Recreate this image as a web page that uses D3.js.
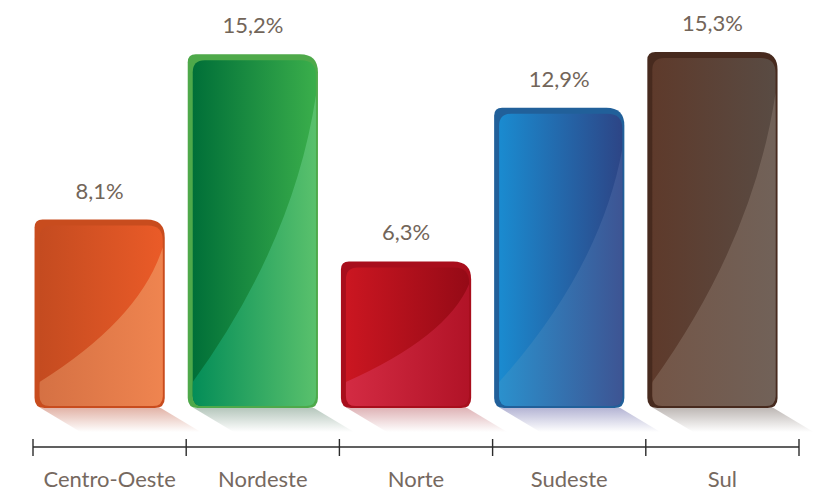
<!DOCTYPE html>
<html>
<head>
<meta charset="utf-8">
<script src="https://cdn.jsdelivr.net/npm/d3@7"></script>
<style>
  html, body { margin: 0; padding: 0; background: #fff; }
  svg { display: block; }
</style>
</head>
<body>
<svg id="chart" width="815" height="492"></svg>
<script>
const categories = ["Centro-Oeste", "Nordeste", "Norte", "Sudeste", "Sul"];
const values = [8.1, 15.2, 6.3, 12.9, 15.3];
const valueLabels = ["8,1%", "15,2%", "6,3%", "12,9%", "15,3%"];

// colour themes per bar: frame, dark gradient (left,right), gloss gradient (left,right), shadow
const frameColors = ["#c84c1e", "#4ea94a", "#a80e1c", "#21609a", "#472a1e"];
const darkLeft  = ["#c44b20", "#006f38", "#cb1621", "#1a8bd0", "#5e3a2b"];
const darkRight = ["#ea5b28", "#3aae4b", "#950a16", "#2d4586", "#594b43"];
const glossLeft  = ["#d47043", "#008b57", "#d52c44", "#2a93cf", "#745546"];
const glossRight = ["#f08550", "#5dc36d", "#b01226", "#3e5291", "#716259"];
const shadowColors = ["#d89a8a", "#9db4a6", "#d49a9e", "#9c9cc6", "#a8a09c"];

const svg = d3.select("#chart");
const defs = svg.append("defs");

const x = d3.scaleBand().domain(categories).range([33, 799]).paddingInner(0).paddingOuter(0);
const y = d3.scaleLinear().domain([0, 15.3]).range([408, 52]);
const bw = x.bandwidth();

function rr(x0, y0, w, h, tl, tr, br, bl) {
  return `M${x0 + tl},${y0}` +
    `H${x0 + w - tr}Q${x0 + w},${y0} ${x0 + w},${y0 + tr}` +
    `V${y0 + h - br}Q${x0 + w},${y0 + h} ${x0 + w - br},${y0 + h}` +
    `H${x0 + bl}Q${x0},${y0 + h} ${x0},${y0 + h - bl}` +
    `V${y0 + tl}Q${x0},${y0} ${x0 + tl},${y0}Z`;
}

const data = categories.map((c, i) => ({ c, v: values[i], label: valueLabels[i], i }));

data.forEach(d => {
  const i = d.i;
  const g1 = defs.append("linearGradient").attr("id", "dark" + i).attr("x1", 0).attr("x2", 1).attr("y1", 0).attr("y2", 0);
  g1.append("stop").attr("offset", 0).attr("stop-color", darkLeft[i]);
  g1.append("stop").attr("offset", 1).attr("stop-color", darkRight[i]);
  const g2 = defs.append("linearGradient").attr("id", "gloss" + i).attr("x1", 0).attr("x2", 1).attr("y1", 0).attr("y2", 0);
  g2.append("stop").attr("offset", 0).attr("stop-color", glossLeft[i]);
  g2.append("stop").attr("offset", 1).attr("stop-color", glossRight[i]);
  const g3 = defs.append("linearGradient").attr("id", "shadow" + i).attr("x1", 0).attr("x2", 0).attr("y1", 0).attr("y2", 1);
  g3.append("stop").attr("offset", 0).attr("stop-color", shadowColors[i]).attr("stop-opacity", 0.75);
  g3.append("stop").attr("offset", 1).attr("stop-color", shadowColors[i]).attr("stop-opacity", 0);
});

const bars = svg.append("g").selectAll("g.bar").data(data).join("g").attr("class", "bar");

bars.each(function(d) {
  const g = d3.select(this);
  const i = d.i;
  const bx = x(d.c) + bw * 0.01;
  const w = bw * 0.85;
  const top = y(d.v);
  const base = y(0);
  const h = base - top;

  // shadow
  g.append("path")
    .attr("d", `M${bx + 6},${base} L${bx + w - 4},${base} L${bx + w + 36},${base + 24} L${bx + 46},${base + 24} Z`)
    .attr("fill", `url(#shadow${i})`);

  // frame
  g.append("path")
    .attr("d", rr(bx, top, w, h, 8, 18, 10, 10))
    .attr("fill", frameColors[i]);

  // inner
  const ix = bx + 5, iy = top + 6, iw = w - 7, ih = h - 8;
  const innerPath = rr(ix, iy, iw, ih, 12, 15, 10, 10);
  defs.append("clipPath").attr("id", "clip" + i).append("path").attr("d", innerPath);
  g.append("path").attr("d", innerPath).attr("fill", `url(#dark${i})`);

  // gloss
  const p0x = ix, p0y = iy + ih - 24;
  const p2x = ix + iw, p2y = iy + Math.min(35, ih * 0.12);
  const cx = ix + iw * 0.82, cy = (p0y + p2y) / 2 + 4;
  g.append("path")
    .attr("clip-path", `url(#clip${i})`)
    .attr("d", `M${p0x},${p0y} Q${cx},${cy} ${p2x},${p2y} L${p2x + 5},${iy + ih + 5} L${p0x - 5},${iy + ih + 5} Z`)
    .attr("fill", `url(#gloss${i})`);

  // value label
  g.append("text")
    .attr("x", bx + w / 2)
    .attr("y", top - 21)
    .attr("text-anchor", "middle")
    .attr("font-family", "Lato, 'Open Sans', sans-serif")
    .attr("font-size", 22)
    .attr("fill", "#726559")
    .text(d.label);
});

// axis
const axisY = 447;
const axisG = svg.append("g");
axisG.append("line")
  .attr("x1", x.range()[0]).attr("x2", x.range()[1])
  .attr("y1", axisY).attr("y2", axisY)
  .attr("stroke", "#2b2b2b").attr("stroke-width", 1.4);
const boundaries = categories.map(c => x(c)).concat([x.range()[1]]);
axisG.selectAll("line.tick").data(boundaries).join("line")
  .attr("class", "tick")
  .attr("x1", d => d).attr("x2", d => d)
  .attr("y1", axisY - 8).attr("y2", axisY + 9)
  .attr("stroke", "#2b2b2b").attr("stroke-width", 1.4);
axisG.selectAll("text.cat").data(categories).join("text")
  .attr("class", "cat")
  .attr("x", d => x(d) + bw / 2)
  .attr("y", 487)
  .attr("text-anchor", "middle")
  .attr("font-family", "Lato, 'Open Sans', sans-serif")
  .attr("font-size", 22)
  .attr("fill", "#76695f")
  .text(d => d);
</script>
</body>
</html>
